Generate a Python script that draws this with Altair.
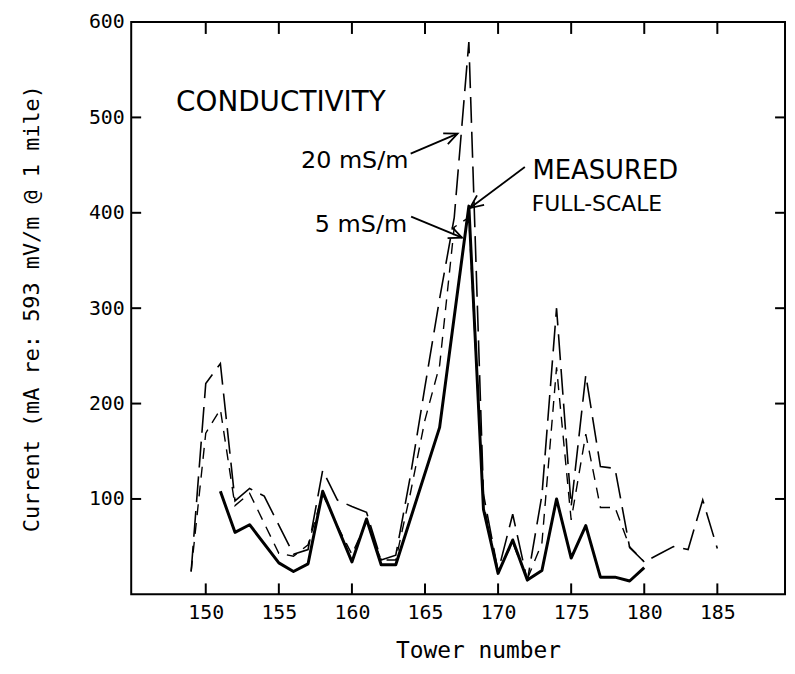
import math
import altair as alt
import pandas as pd

# ---------------- data ----------------
X_TICKS = [150, 155, 160, 165, 170, 175, 180, 185]
Y_TICKS = [100, 200, 300, 400, 500, 600]
Y_TICKS_RIGHT = [100, 200, 300, 400, 500]

TOWER_MEAS = [151, 152, 153, 155, 156, 157, 158, 160, 161, 162, 163, 166, 168,
              169, 170, 171, 172, 173, 174, 175, 176, 177, 178, 179, 180]
CURRENT_MEAS = [108, 65, 73, 33, 24, 32, 108, 34, 79, 31, 31, 175, 407,
                89, 22, 57, 15, 25, 100, 38, 72, 18, 18, 14, 28]

TOWER_20 = [149, 150, 151, 152, 153, 154, 156, 157, 158, 159, 160, 161, 162, 163,
            164, 165, 166, 167, 168, 169, 170, 171, 172, 173, 174, 175, 176, 177,
            178, 179, 180, 181, 182, 183, 184, 185]
CURRENT_20 = [24, 221, 242, 98, 111, 103, 42, 47, 130, 99, 92, 86, 36, 41,
              124, 218, 310, 395, 579, 105, 24, 84, 14, 104, 300, 92, 230, 134,
              132, 49, 34, 42, 50, 47, 99, 48]

TOWER_5 = [149, 150, 151, 152, 153, 155, 156, 157, 158, 159, 160, 161, 162, 163,
           164, 165, 166, 167, 168, 169, 170, 171, 172, 173, 174, 175, 176, 177,
           178, 179, 180]
CURRENT_5 = [24, 169, 194, 93, 106, 43, 40, 52, 105, 72, 42, 76, 36, 36,
             106, 183, 240, 385, 395, 95, 24, 54, 16, 54, 238, 78, 168, 91,
             91, 50, 34]

# annotation texts and where they sit (data units)
TEXT_LEFT = ["CONDUCTIVITY", "MEASURED", "FULL-SCALE"]
TEXT_LEFT_X = [147.97, 172.35, 172.3]
TEXT_LEFT_Y = [507, 435, 402]
TEXT_LEFT_SIZE = [28, 26, 22]

TEXT_RIGHT = ["20 mS/m", "5 mS/m"]
TEXT_RIGHT_X = [163.87, 163.78]
TEXT_RIGHT_Y = [447, 380]

ARROW_FROM_X = [164.02, 164.05, 171.83]
ARROW_FROM_Y = [462, 396, 448]
ARROW_TO_X = [167.23, 167.53, 168.08]
ARROW_TO_Y = [483, 374, 405]

# ---------------- layout ----------------
W, H = 658, 576
X_DOMAIN = [144.9, 189.63]
Y_DOMAIN = [0, 600]

xs = alt.Scale(domain=X_DOMAIN, nice=False, zero=False)
ys = alt.Scale(domain=Y_DOMAIN, nice=False, zero=False)

MONO = "DejaVu Sans Mono"
SANS = "DejaVu Sans"

df_meas = pd.DataFrame({"tower": TOWER_MEAS, "current": CURRENT_MEAS})
df_20 = pd.DataFrame({"tower": TOWER_20, "current": CURRENT_20})
df_5 = pd.DataFrame({"tower": TOWER_5, "current": CURRENT_5})

x_axis = alt.Axis(values=X_TICKS, format="d", title="Tower number",
                  labelFont=MONO, labelFontSize=20, labelPadding=8, labelColor="black",
                  titleFont=MONO, titleFontSize=23, titleFontWeight="normal",
                  titleColor="black", titleX=349, titleY=64,
                  titleBaseline="alphabetic", titleAlign="center",
                  ticks=False, domain=False, grid=False)
y_axis = alt.Axis(values=Y_TICKS, format="d",
                  title="Current (mA re: 593 mV/m @ 1 mile)",
                  labelFont=MONO, labelFontSize=20, labelPadding=7, labelColor="black",
                  titleFont=MONO, titleFontSize=22, titleFontWeight="normal",
                  titleColor="black", titlePadding=45,
                  ticks=False, domain=False, grid=False)


def X(field):
    return alt.X(field, scale=xs, axis=x_axis)


def Y(field):
    return alt.Y(field, scale=ys, axis=y_axis)


meas = alt.Chart(df_meas).mark_line(color="black", strokeWidth=3, strokeJoin="round").encode(
    x=X("tower:Q"), y=Y("current:Q"))
line20 = alt.Chart(df_20).mark_line(color="black", strokeWidth=1.6, strokeDash=[26, 9]).encode(
    x=X("tower:Q"), y=Y("current:Q"))
line5 = alt.Chart(df_5).mark_line(color="black", strokeWidth=1.4, strokeDash=[11, 8]).encode(
    x=X("tower:Q"), y=Y("current:Q"))

# inward ticks on all four sides
df_xt = pd.DataFrame({"tower": X_TICKS})
df_yt = pd.DataFrame({"current": Y_TICKS_RIGHT})
tick_bottom = alt.Chart(df_xt).mark_rule(color="black", strokeWidth=2).encode(
    x=X("tower:Q"), y=alt.value(H), y2=alt.value(H - 11))
tick_top = alt.Chart(df_xt).mark_rule(color="black", strokeWidth=2).encode(
    x=X("tower:Q"), y=alt.value(0), y2=alt.value(12))
tick_left = alt.Chart(df_yt).mark_rule(color="black", strokeWidth=2).encode(
    y=Y("current:Q"), x=alt.value(0), x2=alt.value(10))
tick_right = alt.Chart(df_yt).mark_rule(color="black", strokeWidth=2).encode(
    y=Y("current:Q"), x=alt.value(W), x2=alt.value(W - 10))

# annotations
df_tl = pd.DataFrame({"x": TEXT_LEFT_X, "y": TEXT_LEFT_Y, "t": TEXT_LEFT, "s": TEXT_LEFT_SIZE})
txt_left = alt.Chart(df_tl).mark_text(align="left", baseline="alphabetic", font=SANS,
                                      color="black").encode(
    x=X("x:Q"), y=Y("y:Q"), text="t:N", size=alt.Size("s:Q", scale=None, legend=None))
df_tr = pd.DataFrame({"x": TEXT_RIGHT_X, "y": TEXT_RIGHT_Y, "t": TEXT_RIGHT})
txt_right = alt.Chart(df_tr).mark_text(align="right", baseline="alphabetic", font=SANS,
                                       fontSize=24, color="black").encode(
    x=X("x:Q"), y=Y("y:Q"), text="t:N")

sx = W / (X_DOMAIN[1] - X_DOMAIN[0])
sy = H / (Y_DOMAIN[1] - Y_DOMAIN[0])
angles = []
for x0, y0, x1, y1 in zip(ARROW_FROM_X, ARROW_FROM_Y, ARROW_TO_X, ARROW_TO_Y):
    dx = (x1 - x0) * sx
    dy = -(y1 - y0) * sy
    angles.append(math.degrees(math.atan2(dy, dx)) % 360)

df_arr = pd.DataFrame({"x": ARROW_FROM_X, "y": ARROW_FROM_Y,
                       "x2": ARROW_TO_X, "y2": ARROW_TO_Y, "ang": angles})
shafts = alt.Chart(df_arr).mark_rule(color="black", strokeWidth=1.8).encode(
    x=X("x:Q"), y=Y("y:Q"), x2="x2:Q", y2="y2:Q")
heads = alt.Chart(df_arr).mark_point(shape="M -1 -0.45 L 0 0 L -1 0.45", filled=False,
                                     size=700, strokeWidth=1.8, color="black",
                                     opacity=1).encode(
    x=X("x2:Q"), y=Y("y2:Q"), angle=alt.Angle("ang:Q", scale=None))

chart = alt.layer(
    meas, line20, line5, tick_bottom, tick_top, tick_left, tick_right,
    txt_left, txt_right, shafts, heads
).properties(
    width=W, height=H,
    autosize=alt.AutoSizeParams(type="none"),
    padding={"left": 124, "top": 12, "right": 2, "bottom": 70},
    background="white",
).configure_view(
    stroke="black", strokeWidth=2
)

chart.save("out.html", embed_options={"renderer": "svg", "actions": False})
